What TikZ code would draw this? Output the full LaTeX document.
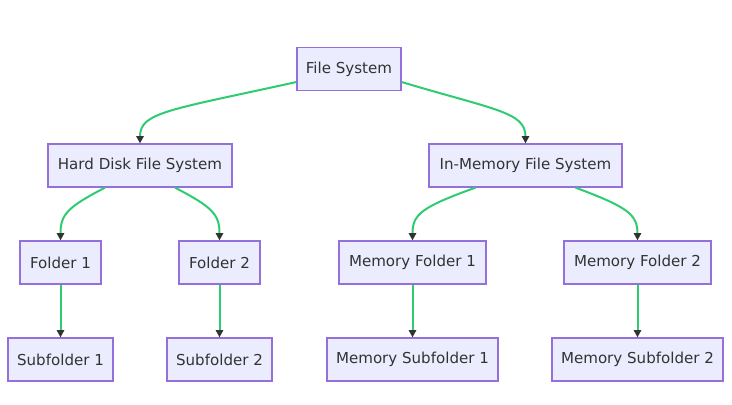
\documentclass[tikz,border=0pt]{standalone}
\usepackage{fontspec}
\setmainfont{DejaVu Sans}
\usetikzlibrary{calc, arrows.meta}
\definecolor{boxfill}{HTML}{ECECFF}
\definecolor{boxline}{HTML}{9370DB}
\definecolor{linkgreen}{HTML}{2ECC71}
\definecolor{txtgray}{HTML}{333333}

\begin{document}
\begin{tikzpicture}[x=0.75pt, y=-0.75pt,
	box/.style={draw=boxline, fill=boxfill, line width=0.9pt, rectangle,
		minimum height=32.25pt, inner sep=0pt, text=txtgray,
		font=\fontsize{11.3}{13}\selectfont},
	edge/.style={draw=linkgreen, line width=1.5pt,
		-{Triangle[length=5.5pt,width=5.5pt,color=txtgray]}}]
			\useasboundingbox (0,0) rectangle (732,404);
			\node (fs) [box, minimum width=78pt] at (349,69) {File System};
			\node (hd) [box, minimum width=138pt] at (140,165.5) {Hard Disk File System};
			\node (im) [box, minimum width=144.75pt] at (525.5,165.5) {In-Memory File System};
			\node (f1) [box, minimum width=60.75pt] at (60.5,262.5) {Folder 1};
			\node (f2) [box, minimum width=60.75pt] at (219.5,262.5) {Folder 2};
			\node (mf1) [box, minimum width=110.25pt] at (412.5,262.5) {Memory Folder 1};
			\node (mf2) [box, minimum width=110.25pt] at (637.5,262.5) {Memory Folder 2};
			\node (s1) [box, minimum width=78.75pt] at (60.5,359.5) {Subfolder 1};
			\node (s2) [box, minimum width=78.75pt] at (219.5,359.5) {Subfolder 2};
			\node (ms1) [box, minimum width=128.25pt] at (412.5,359.5) {Memory Subfolder 1};
			\node (ms2) [box, minimum width=128.25pt] at (637.5,359.5) {Memory Subfolder 2};
			
			\draw[edge] ($(fs.west)+(0,13)$) .. controls (170,110) and (140,112) .. (hd.north);
			\draw[edge] ($(fs.east)+(0,13)$) .. controls (495,110) and (525.5,112) .. (im.north);
			\draw[edge] ($(hd.south)+(-35,0)$) .. controls (68,207) and (60.5,214) .. (f1.north);
			\draw[edge] ($(hd.south)+(35,0)$) .. controls (212,207) and (219.5,214) .. (f2.north);
			\draw[edge] ($(im.south)+(-50,0)$) .. controls (422,207) and (412.5,214) .. (mf1.north);
			\draw[edge] ($(im.south)+(50,0)$) .. controls (627,207) and (637.5,214) .. (mf2.north);
			\draw[edge] (f1) -- (s1);
			\draw[edge] (f2) -- (s2);
			\draw[edge] (mf1) -- (ms1);
			\draw[edge] (mf2) -- (ms2);
		\end{tikzpicture}
\end{document}
